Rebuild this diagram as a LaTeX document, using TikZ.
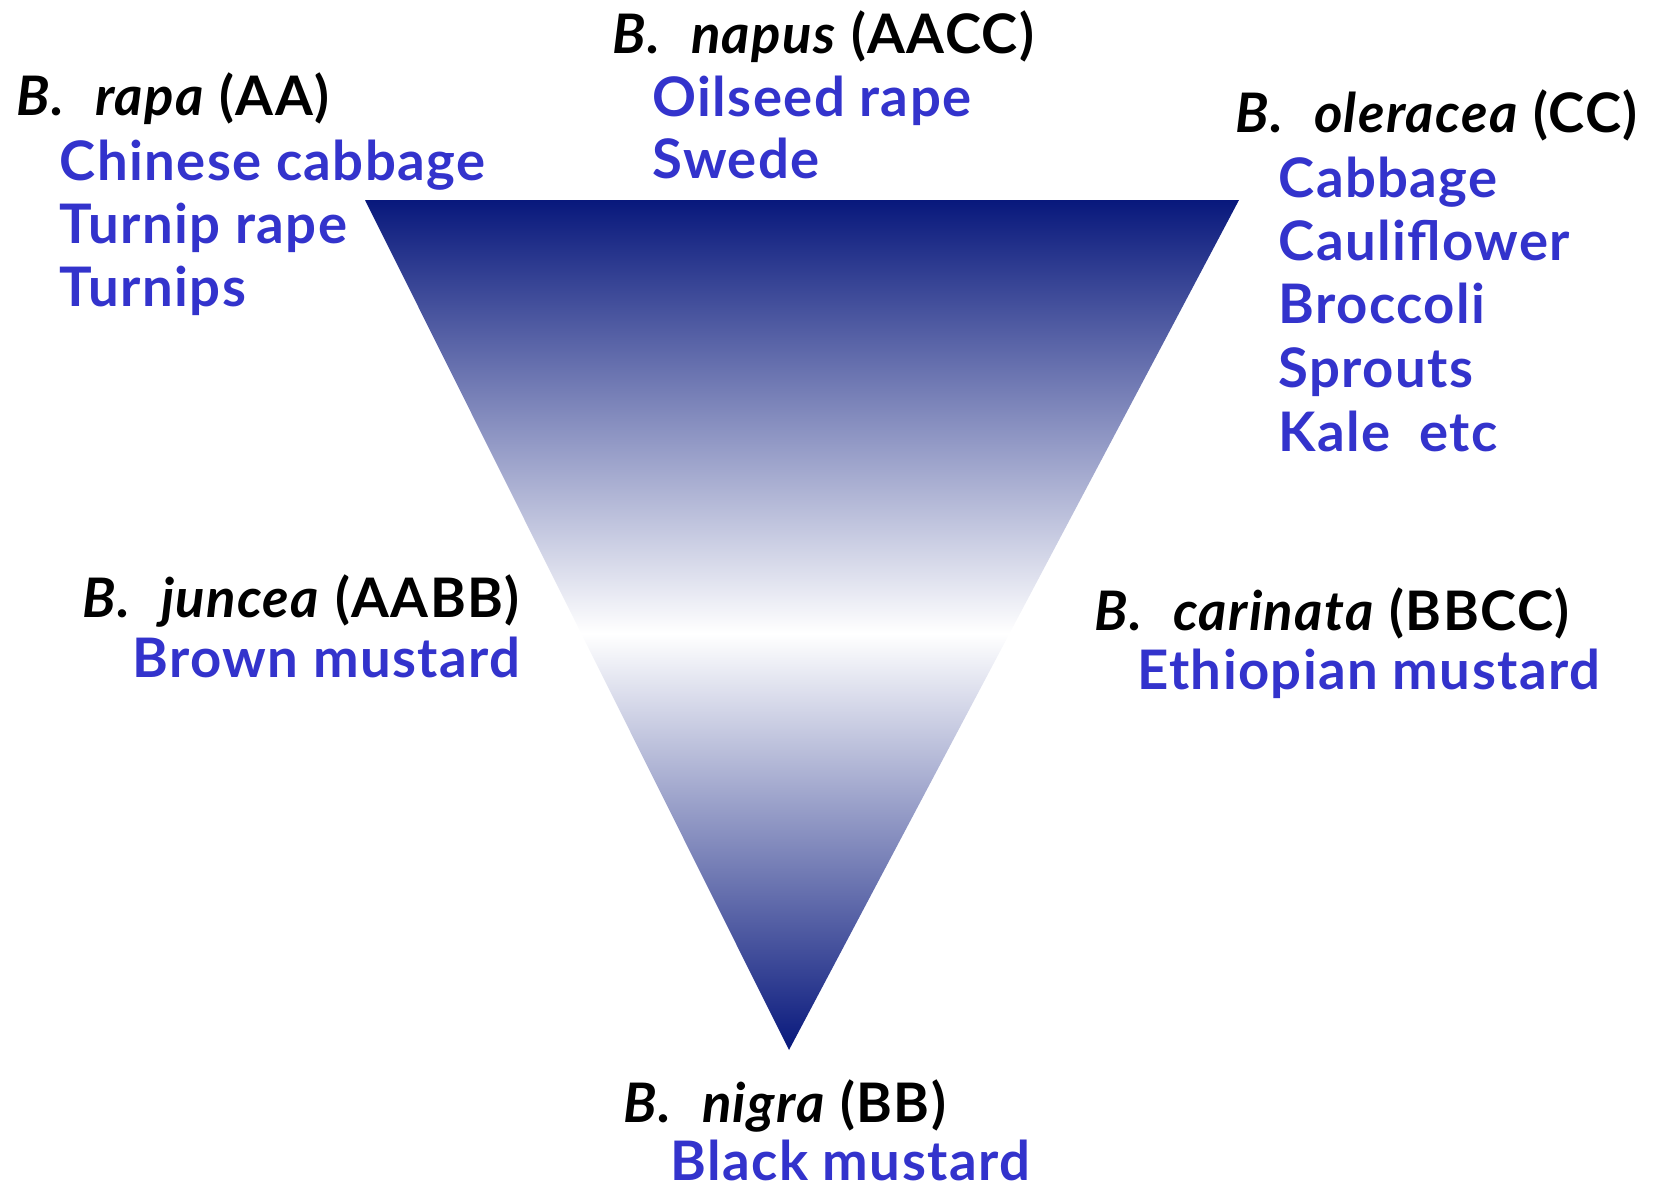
\documentclass[tikz,border=0pt]{standalone}
\usepackage{fontspec}
\setmainfont{Lato}[LetterSpace=2.5]
\usepackage{tikz}
\usetikzlibrary{calc}

\definecolor{cropblue}{RGB}{51,51,204}
\definecolor{trinavy}{RGB}{8,24,124}
\pgfdeclareverticalshading{triband}{100bp}{color(0bp)=(trinavy); color(25bp)=(trinavy); color(49.5bp)=(white); color(75bp)=(trinavy); color(100bp)=(trinavy)}
\newcommand{\spname}[1]{\textit{B.}\ \ \textit{#1}}

\begin{document}
\begin{tikzpicture}[x=0.01cm, y=-0.01cm, inner sep=0pt,
    font=\fontsize{15.5}{18}\selectfont\bfseries,
    sp/.style={anchor=base west, text=black},
    crop/.style={anchor=base west, text=cropblue}]
			\useasboundingbox (0,0) rectangle (1673,1187);
			% triangle corners
			\coordinate (TL) at (365,200);
			\coordinate (TR) at (1239,200);
			\coordinate (Bt) at (789,1050);
			\shade[shading=triband] (TL) -- (TR) -- (Bt) -- cycle;
			% B. rapa
			\node[sp] (rapa) at (16,115) {\spname{rapa} (AA)};
			\node[crop] (rapa1) at (59,180) {Chinese cabbage};
			\node[crop] (rapa2) at (59,243) {Turnip rape};
			\node[crop] (rapa3) at (59,306) {Turnips};
			% B. napus
			\node[sp] (napus) at (612,53) {\spname{napus} (AACC)};
			\node[crop] (napus1) at (652,116) {Oilseed rape};
			\node[crop] (napus2) at (652,178) {Swede};
			% B. oleracea
			\node[sp] (oler) at (1235,132) {\spname{oleracea} (CC)};
			\node[crop] (oler1) at (1278,197) {Cabbage};
			\node[crop] (oler2) at (1278,260) {Cauliflower};
			\node[crop] (oler3) at (1278,323) {Broccoli};
			\node[crop] (oler4) at (1278,387) {Sprouts};
			\node[crop] (oler5) at (1278,451) {Kale\ \ etc};
			% B. juncea
			\node[sp] (jun) at (82,617) {\spname{juncea} (AABB)};
			\node[crop] (jun1) at (132,677) {Brown mustard};
			% B. carinata
			\node[sp] (car) at (1094,630) {\spname{carinata} (BBCC)};
			\node[crop] (car1) at (1137,689) {Ethiopian mustard};
			% B. nigra
			\node[sp] (nig) at (623,1122) {\spname{nigra} (BB)};
			\node[crop] (nig1) at (670,1180) {Black mustard};
		\end{tikzpicture}
\end{document}
